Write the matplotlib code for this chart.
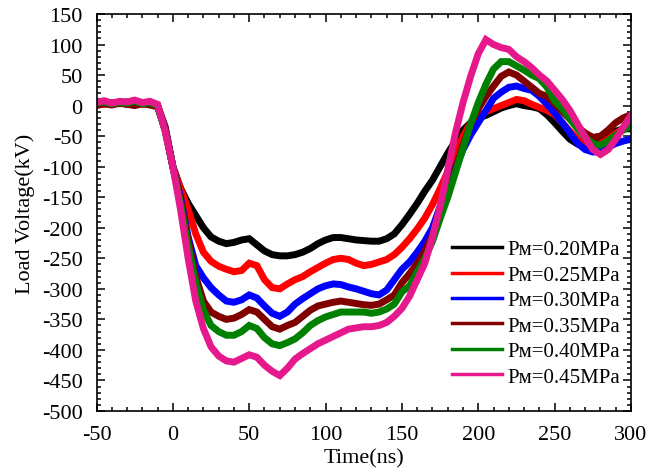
"""Load voltage waveforms for several magnetic-switch gas pressures."""

import matplotlib
matplotlib.use("Agg")
import matplotlib.pyplot as plt
from matplotlib.font_manager import FontProperties
from matplotlib.ticker import MultipleLocator

# -----------------------------
# Data (kV), sampled every 5 ns from -50 to 300 ns
# -----------------------------

time_ns = list(range(-50, 301, 5))

v_020 = [3, 5, 2, 4, 6, 3, 5, 4, 0, -35,
         -100, -135, -160, -180, -200, -215, -222, -226, -224, -220,
         -218, -228, -238, -244, -246, -246, -244, -240, -234, -226,
         -220, -216, -216, -218, -220, -221, -222, -222, -218, -210,
         -195, -178, -160, -140, -122, -100, -78, -58, -40, -28,
         -20, -16, -10, -4, 0, 3, 0, -2, -5, -15,
         -28, -42, -55, -63, -66, -63, -55, -48, -42, -38, -38]

v_025 = [4, 2, 5, 3, 4, 6, 2, 5, 0, -38,
         -100, -135, -170, -210, -240, -255, -263, -268, -272, -270,
         -258, -262, -285, -298, -300, -292, -285, -280, -272, -265,
         -258, -252, -250, -252, -258, -262, -260, -256, -252, -244,
         -232, -218, -202, -184, -162, -136, -108, -80, -50, -28,
         -18, -10, -5, 0, 5, 10, 8, 2, -3, -8,
         -15, -28, -42, -55, -63, -66, -62, -55, -45, -38, -32]

v_030 = [2, 5, 3, 6, 2, 4, 5, 3, -1, -40,
         -100, -150, -215, -262, -282, -298, -310, -320, -322, -318,
         -310, -315, -328, -340, -345, -338, -325, -316, -308, -300,
         -295, -292, -293, -297, -300, -304, -308, -310, -302, -285,
         -268, -256, -240, -222, -200, -165, -135, -102, -72, -48,
         -28, -8, 12, 22, 30, 32, 28, 25, 15, 2,
         -12, -28, -45, -62, -72, -76, -75, -68, -62, -58, -55]

v_035 = [0, 3, 1, 4, 2, 0, 3, 1, -2, -40,
         -100, -155, -220, -280, -320, -338, -345, -350, -348, -342,
         -334, -338, -350, -362, -366, -360, -355, -345, -335, -328,
         -325, -322, -320, -322, -324, -326, -327, -325, -318, -310,
         -290, -275, -258, -238, -212, -180, -148, -105, -65, -30,
         -5, 15, 32, 48, 55, 50, 40, 30, 20, 15,
         3, -10, -22, -35, -45, -52, -50, -40, -28, -20, -15]

v_040 = [4, 6, 3, 5, 4, 7, 3, 5, 0, -42,
         -100, -160, -230, -290, -335, -360, -370, -376, -376, -370,
         -360, -365, -380, -390, -393, -388, -382, -372, -360, -352,
         -346, -342, -338, -338, -338, -338, -340, -338, -333, -325,
         -305, -295, -272, -250, -222, -185, -150, -110, -70, -30,
         5, 35, 60, 72, 72, 65, 58, 50, 44, 30,
         8, -5, -22, -38, -52, -62, -65, -58, -48, -40, -33]

v_045 = [5, 8, 4, 7, 6, 9, 5, 7, 2, -42,
         -100, -170, -250, -320, -365, -395, -410, -418, -420, -414,
         -408, -412, -425, -435, -442, -430, -415, -406, -398, -390,
         -384, -378, -372, -366, -364, -362, -362, -360, -355, -345,
         -332, -312, -285, -258, -215, -165, -105, -45, 5, 48,
         85, 108, 100, 95, 92, 80, 72, 62, 50, 40,
         25, 10, -8, -30, -52, -72, -80, -72, -55, -35, -16]

series = [v_020, v_025, v_030, v_035, v_040, v_045]
pressures = ["0.20", "0.25", "0.30", "0.35", "0.40", "0.45"]
colors = ["#000000", "#ff0000", "#0000ff", "#800000", "#008000", "#e6198c"]

# -----------------------------
# Plot
# -----------------------------

plt.rcParams["font.family"] = ["Liberation Serif", "DejaVu Serif", "DejaVu Sans"]
plt.rcParams["axes.unicode_minus"] = False

fig = plt.figure(figsize=(6.49, 4.77), dpi=100)
ax = fig.add_axes([0.1487, 0.1363, 0.8236, 0.8323])

for vals, p, c in zip(series, pressures, colors):
    ax.plot(time_ns, vals, color=c, linewidth=5, solid_joinstyle="miter",
            label="P\u1d0d=" + p + "MPa")

ax.set_xlim(-50, 300)
ax.set_ylim(-500, 150)
ax.xaxis.set_major_locator(MultipleLocator(50))
ax.xaxis.set_minor_locator(MultipleLocator(10))
ax.yaxis.set_major_locator(MultipleLocator(50))
ax.yaxis.set_minor_locator(MultipleLocator(10))

ax.tick_params(which="both", direction="in", top=True, right=True,
               width=1.1, labelsize=16)
ax.tick_params(which="major", length=5.5)
ax.tick_params(which="minor", length=3)
ax.tick_params(axis="x", which="major", pad=10)
ax.tick_params(axis="y", which="major", pad=10)
for s in ax.spines.values():
    s.set_linewidth(1.2)

ax.set_xlabel("Time(ns)", fontsize=16, labelpad=3)
ax.set_ylabel("Load Voltage(kV)", fontsize=16, labelpad=5)

leg = ax.legend(loc="upper left", bbox_to_anchor=(0.649, 0.452),
                frameon=False, handlelength=2.4, handletextpad=0.25,
                labelspacing=0.28, borderaxespad=0,
                prop=FontProperties(family=["Liberation Serif", "DejaVu Serif", "DejaVu Sans"], size=15))
for h in leg.get_lines():
    h.set_linewidth(2.5)

fig.savefig("out.png", dpi=100)
